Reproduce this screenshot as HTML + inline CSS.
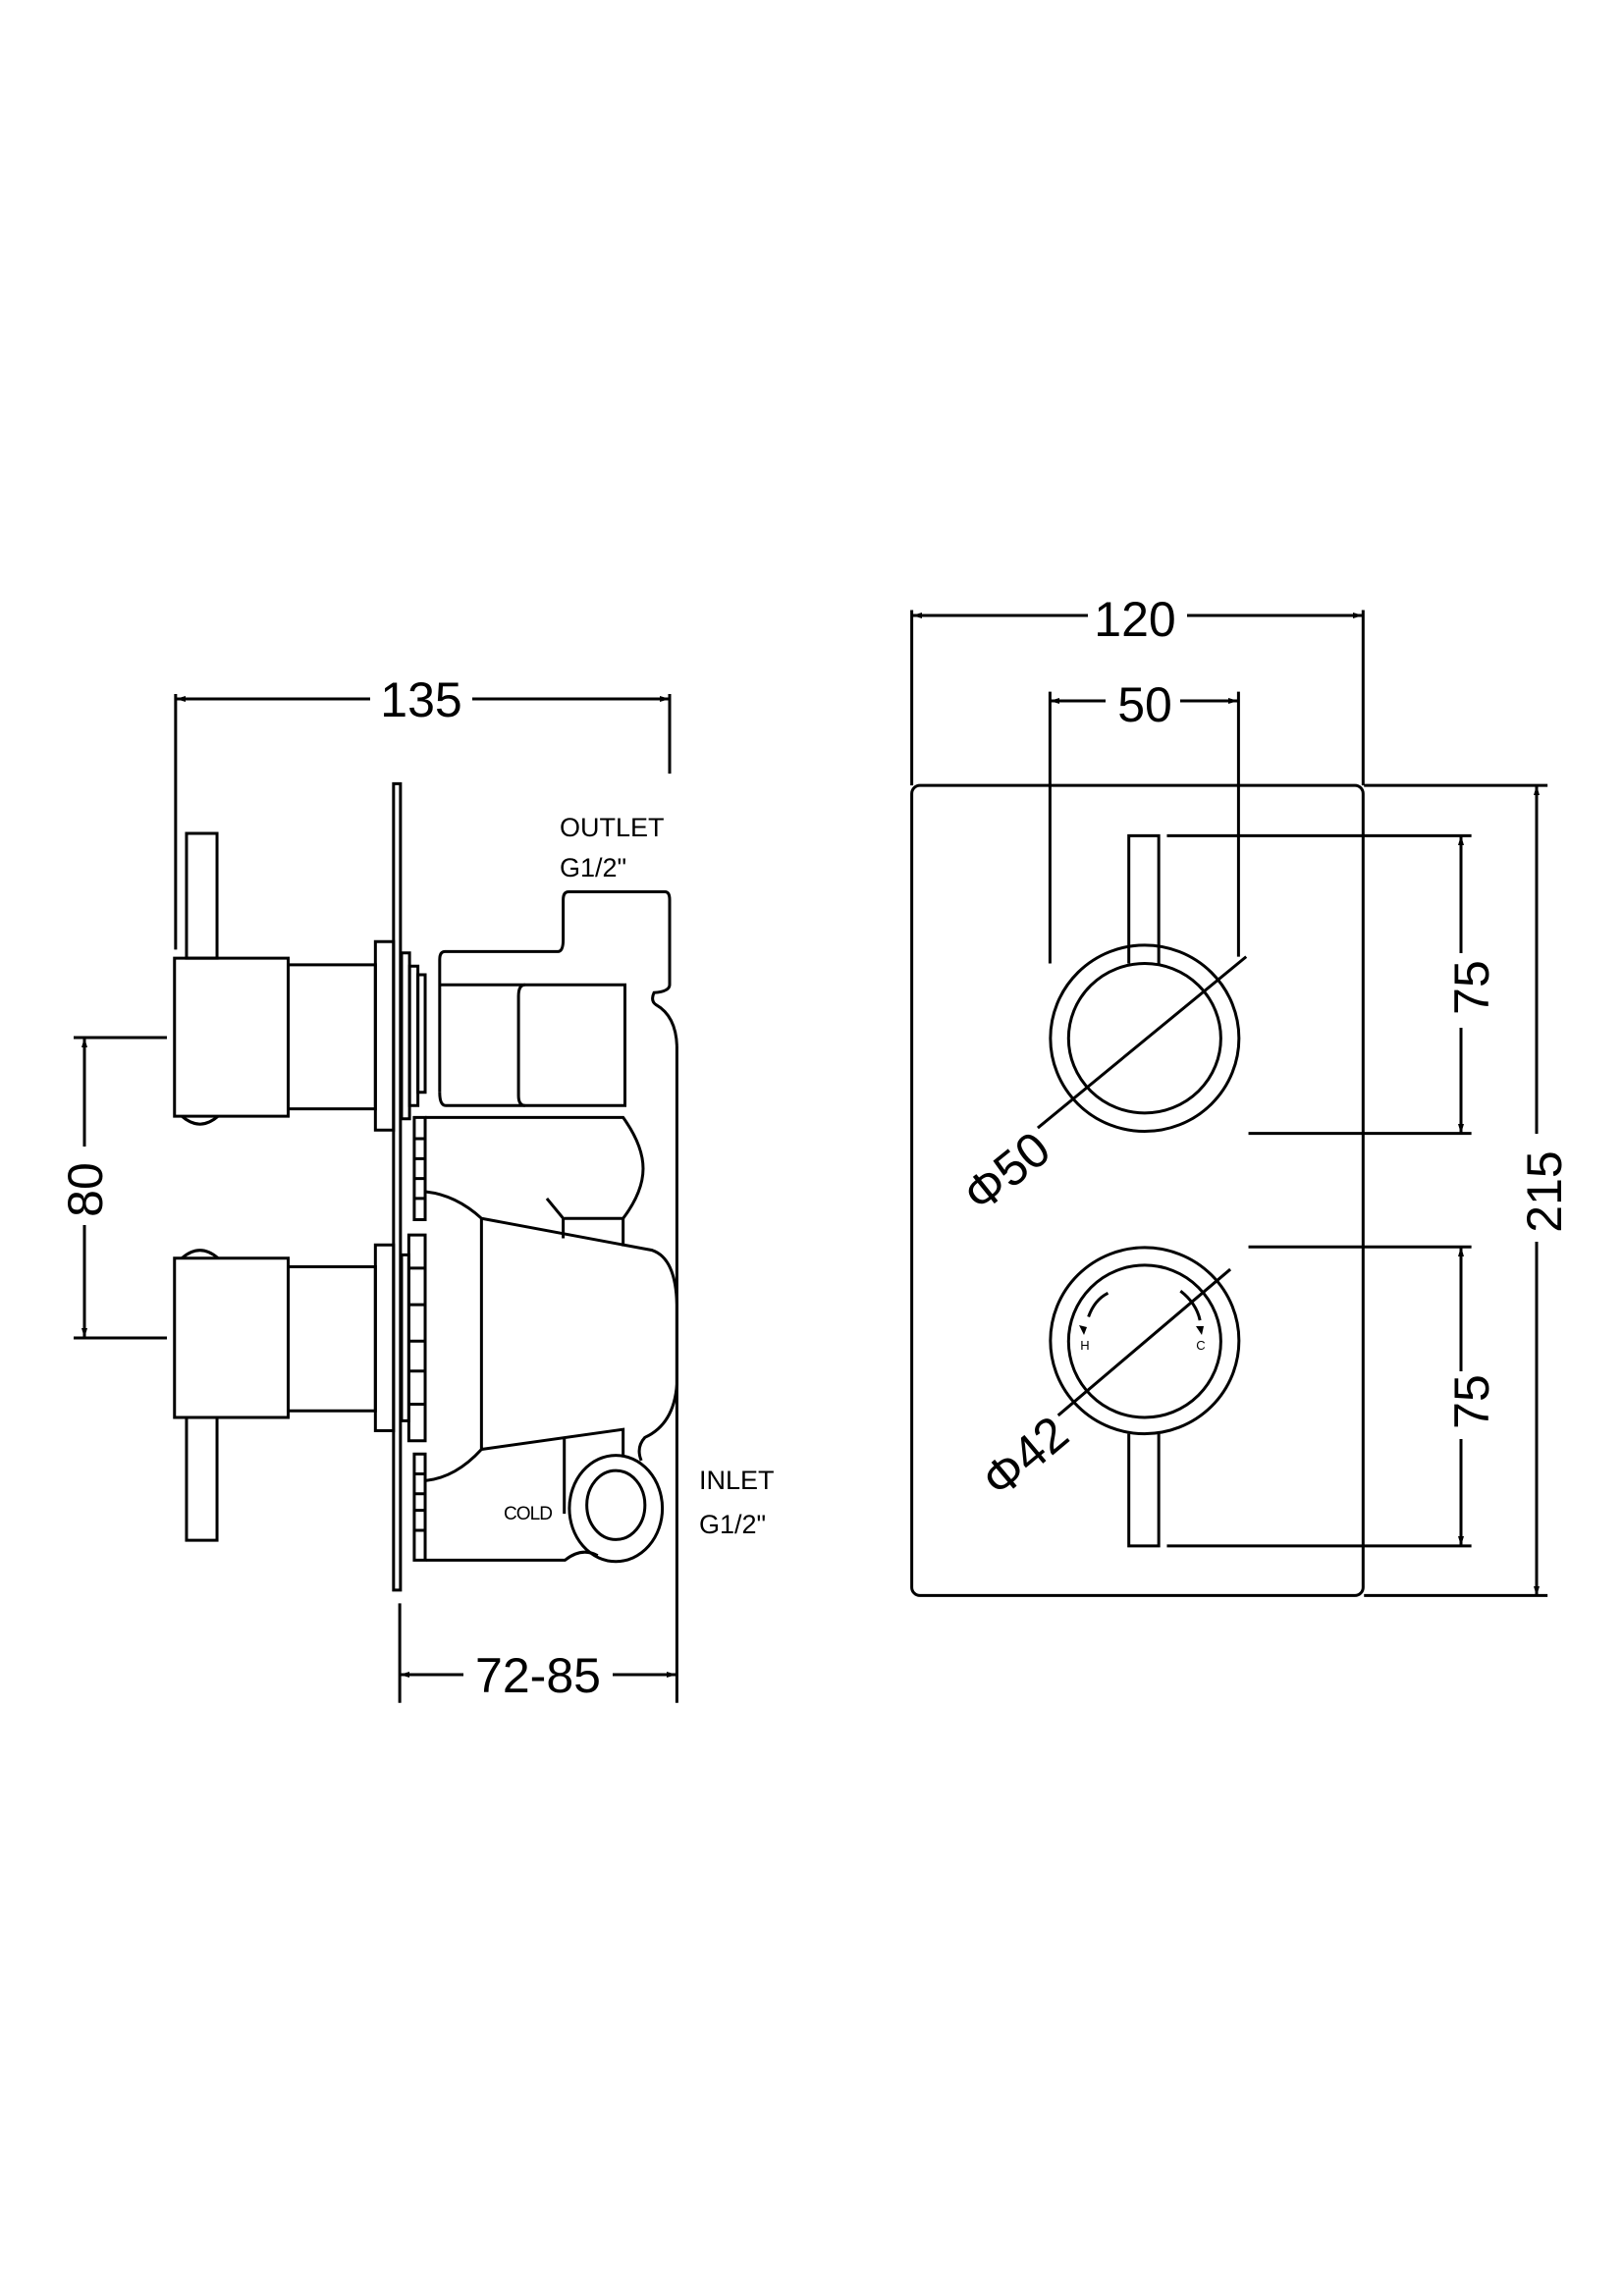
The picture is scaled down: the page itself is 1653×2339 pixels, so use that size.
<!DOCTYPE html>
<html><head><meta charset="utf-8"><style>
html,body{margin:0;padding:0;background:#fff}
svg{display:block}
text{font-family:"Liberation Sans",sans-serif;fill:#000}
.g *{vector-effect:non-scaling-stroke}
</style></head><body>
<svg width="1653" height="2339" viewBox="0 0 1653 2339" xmlns="http://www.w3.org/2000/svg">
<defs>
<marker id="a" viewBox="0 0 10 6" refX="10" refY="3" markerWidth="16" markerHeight="6" orient="auto-start-reverse" markerUnits="userSpaceOnUse"><path d="M0,0 L10,3 L0,6 z" fill="#000"/></marker>
</defs>
<g fill="none" stroke="#000" stroke-width="3">
<g class="g" transform="translate(150,680) scale(0.36996,0.67613)">
<rect x="678" y="175" width="19" height="1215"/>
<rect x="108" y="250" width="84" height="188"/>
<rect x="75" y="438" width="313" height="238"/>
<path d="M95,676 Q145,700 195,676"/>
<rect x="388" y="448" width="240" height="217"/>
<rect x="628" y="413" width="50" height="284"/>
<rect x="700" y="430" width="22" height="250"/>
<rect x="722" y="450" width="23" height="210"/>
<rect x="745" y="463" width="20" height="177"/>
<path d="M95,890 Q145,866 195,890"/>
<rect x="75" y="890" width="313" height="240"/>
<rect x="108" y="1130" width="84" height="185"/>
<rect x="388" y="903" width="240" height="217"/>
<rect x="628" y="870" width="50" height="280"/>
<rect x="700" y="885" width="20" height="250"/>
<rect x="735" y="678" width="30" height="154"/>
<path d="M735,710 H765 M735,740 H765 M735,770 H765 M735,800 H765"/>
<rect x="720" y="855" width="45" height="310"/>
<path d="M720,905 H765 M720,960 H765 M720,1015 H765 M720,1060 H765 M720,1110 H765"/>
<rect x="735" y="1185" width="30" height="160"/>
<path d="M735,1215 H765 M735,1245 H765 M735,1270 H765 M735,1300 H765"/>
<path d="M805,640 L805,440 Q805,428 820,428 L1130,428 Q1145,428 1145,410 L1145,350 Q1145,338 1160,338 L1425,338 Q1438,338 1438,350 L1438,478 Q1438,488 1395,490 Q1385,502 1400,508 Q1455,525 1458,570"/>
<path d="M805,640 Q805,660 822,660 L1315,660 L1315,478 L805,478"/>
<path d="M1040,478 Q1022,478 1022,495 L1022,645 Q1022,660 1040,660"/>
<path d="M765,678 L1310,678 Q1365,720 1365,755 Q1365,790 1310,830 L1148,830"/>
<path d="M1100,800 L1145,830 L1145,860 M1310,830 L1310,872"/>
<path d="M768,790 Q850,795 920,830 L1390,878 Q1455,890 1458,960 L1458,1080 Q1450,1140 1370,1160 Q1345,1175 1360,1195"/>
<path d="M920,830 L920,1178 L1310,1148 L1310,1190 M768,1225 Q850,1220 920,1178 M1148,1160 L1148,1275"/>
<ellipse cx="1290" cy="1267" rx="128" ry="80"/>
<ellipse cx="1290" cy="1262" rx="80" ry="52"/>
<path d="M768,1345 L1150,1345 Q1195,1325 1240,1338"/>
<path d="M1458,570 L1458,1560"/>
<path d="M78,40 V425 M1438,40 V160"/>
<path d="M695,1410 V1560"/>
</g>
<!-- left dims -->
<path d="M179,712 H377 M481,712 H682" marker-start="url(#a)" marker-end="url(#a)"/>
<path d="M407,1706 H472 M624,1706 H689" marker-start="url(#a)" marker-end="url(#a)"/>
<path d="M75,1057 H170 M75,1363 H170"/>
<path d="M86,1057 V1168 M86,1248 V1363" marker-start="url(#a)" marker-end="url(#a)"/>
<g class="g" transform="translate(900,580) scale(0.46154,0.69231)">
<rect x="62" y="318" width="996" height="1192" rx="18" ry="12"/>
<path d="M62,60 V318 M1058,60 V318"/>
<path d="M367,180 V580 M783,180 V570"/>
<ellipse cx="576" cy="690" rx="208" ry="137"/>
<ellipse cx="576" cy="690" rx="168" ry="110"/>
<path d="M541,580 V392 H607 V580"/>
<ellipse cx="576" cy="1135" rx="208" ry="137"/>
<ellipse cx="576" cy="1136" rx="168" ry="112"/>
<path d="M541,1272 V1437 H607 V1272"/>
<path d="M495,1065 Q465,1075 452,1100 M655,1062 Q690,1080 698,1105"/>
<path d="M625,392 H1297 M805,830 H1297 M805,997 H1297 M625,1437 H1297"/>
<path d="M1060,318 H1465 M1060,1510 H1465"/>
<path d="M340,822 L800,570"/>
<path d="M385,1245 L765,1030"/>
</g>
<!-- right dims -->
<path d="M929,627 H1108 M1209,627 H1388" marker-start="url(#a)" marker-end="url(#a)"/>
<path d="M1069,714 H1126 M1202,714 H1261" marker-start="url(#a)" marker-end="url(#a)"/>
<path d="M1488,851 V971 M1488,1047 V1155" marker-start="url(#a)" marker-end="url(#a)"/>
<path d="M1488,1270 V1397 M1488,1466 V1575" marker-start="url(#a)" marker-end="url(#a)"/>
<path d="M1565,800 V1155 M1565,1265 V1626" marker-start="url(#a)" marker-end="url(#a)"/>
</g>
<g fill="#000">
<path d="M1104,1360 l-5,-10 l8,2 z M1224,1360 l-6,-9 l8,0 z"/>
</g>
<text x="429" y="730" font-size="50" text-anchor="middle">135</text>
<text x="548" y="1724" font-size="50" text-anchor="middle">72-85</text>
<text x="1156" y="648" font-size="50" text-anchor="middle">120</text>
<text x="1166" y="735" font-size="50" text-anchor="middle">50</text>
<text transform="translate(104,1212) rotate(-90)" font-size="50" text-anchor="middle">80</text>
<text transform="translate(1516,1006) rotate(-90)" font-size="50" text-anchor="middle">75</text>
<text transform="translate(1516,1428) rotate(-90)" font-size="50" text-anchor="middle">75</text>
<text transform="translate(1590,1214) rotate(-90)" font-size="50" text-anchor="middle">215</text>
<text transform="translate(1036,1207) rotate(-39)" font-size="50" text-anchor="middle">Φ50</text>
<text transform="translate(1055,1497) rotate(-40)" font-size="50" text-anchor="middle">Φ42</text>
<text x="570" y="852" font-size="27">OUTLET</text>
<text x="570" y="893" font-size="27">G1/2"</text>
<text x="712" y="1517" font-size="27">INLET</text>
<text x="712" y="1562" font-size="27">G1/2"</text>
<text x="513" y="1548" font-size="19" textLength="50">COLD</text>
<text x="1105" y="1375" font-size="13" text-anchor="middle">H</text>
<text x="1223" y="1375" font-size="13" text-anchor="middle">C</text>
</svg>
</body></html>
